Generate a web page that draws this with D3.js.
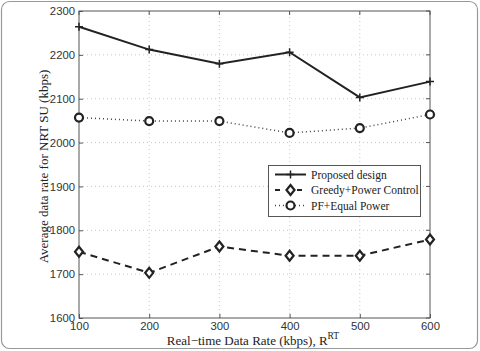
<!DOCTYPE html>
<html><head><meta charset="utf-8">
<script src="https://cdn.jsdelivr.net/npm/d3@7"></script>
<style>body{margin:0;background:#fff}svg{display:block}</style>
</head><body>
<script>
const xValues = [100, 200, 300, 400, 500, 600];
const proposed = [2264, 2212, 2180, 2206, 2103, 2139];
const greedy = [1751, 1703, 1763, 1742, 1742, 1779];
const pfEqual = [2057, 2049, 2049, 2022, 2033, 2064];
const yTicks = [1600, 1700, 1800, 1900, 2000, 2100, 2200, 2300];
const legendLabels = ["Proposed design", "Greedy+Power Control", "PF+Equal Power"];

const W = 480, H = 351;
const m = {left: 79, right: 50, top: 11, bottom: 33};
const svg = d3.select("body").append("svg").attr("width", W).attr("height", H);

svg.append("rect").attr("x", 1.5).attr("y", 1.5).attr("width", W - 4).attr("height", H - 4)
  .attr("rx", 8).attr("fill", "#fff").attr("stroke", "#999").attr("stroke-width", 1.2);

const x = d3.scaleLinear().domain([100, 600]).range([m.left, W - m.right]);
const y = d3.scaleLinear().domain([1600, 2300]).range([H - m.bottom, m.top]);

// grid
const g = svg.append("g");
g.selectAll(".gx").data(xValues.slice(1, -1)).join("line")
  .attr("x1", d => x(d)).attr("x2", d => x(d)).attr("y1", y(1600)).attr("y2", y(2300))
  .attr("stroke", "#bbb").attr("stroke-width", 0.8).attr("stroke-dasharray", "1,3");
g.selectAll(".gy").data(yTicks.slice(1, -1)).join("line")
  .attr("x1", x(100)).attr("x2", x(600)).attr("y1", d => y(d)).attr("y2", d => y(d))
  .attr("stroke", "#bbb").attr("stroke-width", 0.8).attr("stroke-dasharray", "1,3");

// frame
svg.append("rect").attr("x", x(100)).attr("y", y(2300)).attr("width", x(600) - x(100)).attr("height", y(1600) - y(2300))
  .attr("fill", "none").attr("stroke", "#555").attr("stroke-width", 1);

// axes (inward ticks)
const fmt = d3.format("d");
const xAxis = d3.axisBottom(x).tickValues(xValues).tickFormat(fmt).tickSize(-4).tickPadding(4);
const yAxis = d3.axisLeft(y).tickValues(yTicks).tickFormat(fmt).tickSize(-4).tickPadding(4);
const xa = svg.append("g").attr("transform", `translate(0,${y(1600)})`).call(xAxis);
const ya = svg.append("g").attr("transform", `translate(${x(100)},0)`).call(yAxis);
[xa, ya].forEach(a => {
  a.select(".domain").remove();
  a.selectAll(".tick line").attr("stroke", "#555");
  a.selectAll(".tick text").attr("font-family", "Liberation Sans, Arial, sans-serif")
    .attr("font-size", 11.3).attr("fill", "#333");
});
// mirrored ticks on top/right
svg.append("g").selectAll("line").data(xValues).join("line")
  .attr("x1", d => x(d)).attr("x2", d => x(d)).attr("y1", y(2300)).attr("y2", y(2300) + 4).attr("stroke", "#555");
svg.append("g").selectAll("line").data(yTicks).join("line")
  .attr("x1", x(600)).attr("x2", x(600) - 4).attr("y1", d => y(d)).attr("y2", d => y(d)).attr("stroke", "#555");

// axis labels
const xl = svg.append("text").attr("x", 253).attr("y", 345).attr("text-anchor", "middle")
  .attr("font-family", "Liberation Serif, Times New Roman, serif").attr("font-size", 13).attr("fill", "#222");
xl.append("tspan").text("Real\u2212time Data Rate (kbps), R");
xl.append("tspan").attr("dy", -6).attr("font-size", 9.5).text("RT");

svg.append("text").attr("transform", `translate(48,${(y(1600) + y(2300)) / 2 + 2}) rotate(-90)`)
  .attr("text-anchor", "middle").attr("font-family", "Liberation Serif, Times New Roman, serif")
  .attr("font-size", 13).attr("fill", "#222").text("Average data rate for NRT SU (kbps)");

const line = d3.line().x((d, i) => x(xValues[i])).y(d => y(d));
const col = "#222";

// PF + Equal power
svg.append("path").datum(pfEqual).attr("d", line).attr("fill", "none").attr("stroke", "#444")
  .attr("stroke-width", 1.5).attr("stroke-dasharray", "1,3");
svg.append("g").selectAll("circle").data(pfEqual).join("circle")
  .attr("cx", (d, i) => x(xValues[i])).attr("cy", d => y(d)).attr("r", 4)
  .attr("fill", "#fff").attr("stroke", col).attr("stroke-width", 2.2);

// Greedy
svg.append("path").datum(greedy).attr("d", line).attr("fill", "none").attr("stroke", col)
  .attr("stroke-width", 2).attr("stroke-dasharray", "7,5");
const diamond = (cx, cy, s) => `M${cx},${cy - s}L${cx + s * 0.8},${cy}L${cx},${cy + s}L${cx - s * 0.8},${cy}Z`;
svg.append("g").selectAll("path").data(greedy).join("path")
  .attr("d", (d, i) => diamond(x(xValues[i]), y(d), 5))
  .attr("fill", "#fff").attr("stroke", col).attr("stroke-width", 2.2);

// Proposed
svg.append("path").datum(proposed).attr("d", line).attr("fill", "none").attr("stroke", col).attr("stroke-width", 2);
const plus = (cx, cy, s) => `M${cx - s},${cy}L${cx + s},${cy}M${cx},${cy - s}L${cx},${cy + s}`;
svg.append("g").selectAll("path").data(proposed).join("path")
  .attr("d", (d, i) => plus(x(xValues[i]), y(d), 4)).attr("stroke", col).attr("stroke-width", 1.5);

// legend
const lg = svg.append("g");
lg.append("rect").attr("x", 268.5).attr("y", 165.5).attr("width", 152).attr("height", 51)
  .attr("fill", "#fff").attr("stroke", "#555").attr("stroke-width", 1);
const rows = [174.5, 190, 205.5];
const lx1 = 275, lx2 = 306, lxm = 290.5;
// row 1
lg.append("line").attr("x1", lx1).attr("x2", lx2).attr("y1", rows[0]).attr("y2", rows[0]).attr("stroke", col).attr("stroke-width", 2);
lg.append("path").attr("d", plus(lxm, rows[0], 4)).attr("stroke", col).attr("stroke-width", 1.5);
// row 2
lg.append("line").attr("x1", lx1).attr("x2", lx2).attr("y1", rows[1]).attr("y2", rows[1]).attr("stroke", col)
  .attr("stroke-width", 2).attr("stroke-dasharray", "5,6");
lg.append("path").attr("d", diamond(lxm, rows[1], 5)).attr("fill", "#fff").attr("stroke", col).attr("stroke-width", 2.2);
// row 3
lg.append("line").attr("x1", lx1).attr("x2", lx2).attr("y1", rows[2]).attr("y2", rows[2]).attr("stroke", "#444")
  .attr("stroke-width", 1.5).attr("stroke-dasharray", "1,3");
lg.append("circle").attr("cx", lxm).attr("cy", rows[2]).attr("r", 4).attr("fill", "#fff").attr("stroke", col).attr("stroke-width", 2.2);
lg.selectAll("text").data(legendLabels).join("text")
  .attr("x", 311).attr("y", (d, i) => rows[i] + 4)
  .attr("font-family", "Liberation Serif, Times New Roman, serif").attr("font-size", 11.5).attr("fill", "#222")
  .text(d => d);
</script>
</body></html>
